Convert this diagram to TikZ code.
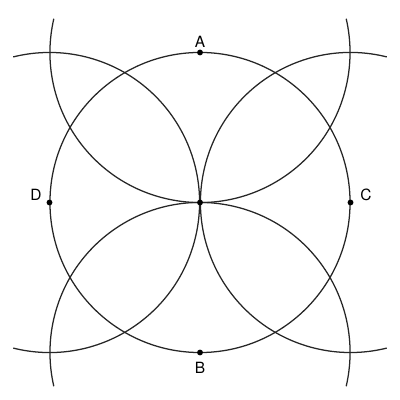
\documentclass[tikz,border=0pt]{standalone}
\usepackage{fontspec}
\setmainfont{TeX Gyre Heros}
\begin{document}
\begin{tikzpicture}[x=0.025cm,y=0.025cm,
  curve/.style={line width=0.9pt,black!85},
  pt/.style={circle,fill=black,inner sep=0pt,minimum size=4.2pt},
  lbl/.style={font=\fontsize{11}{13}\selectfont,inner sep=0pt}]
\useasboundingbox (0,0) rectangle (400,400);
\coordinate (O) at (200,197.5);
\coordinate (A) at (200,347.5);
\coordinate (B) at (200,47.5);
\coordinate (C) at (350.5,197.5);
\coordinate (D) at (49.5,197.5);
\draw[curve] (O) circle[radius=3.75cm];
\draw[curve] ([shift={(167:3.75cm)}]A) arc[start angle=167,end angle=373,radius=3.75cm];
\draw[curve] ([shift={(-13:3.75cm)}]B) arc[start angle=-13,end angle=193,radius=3.75cm];
\draw[curve] ([shift={(-104:3.75cm)}]D) arc[start angle=-104,end angle=104,radius=3.75cm];
\draw[curve] ([shift={(76:3.75cm)}]C) arc[start angle=76,end angle=284,radius=3.75cm];
\node[pt] (dO) at (O) {};
\node[pt] (dA) at (A) {};
\node[pt] (dB) at (B) {};
\node[pt] (dC) at (C) {};
\node[pt] (dD) at (D) {};
\node[lbl] (lA) at (200,358.5) {A};
\node[lbl] (lB) at (200,32) {B};
\node[lbl] (lC) at (366,205.5) {C};
\node[lbl] (lD) at (36,205.5) {D};
\end{tikzpicture}
\end{document}
